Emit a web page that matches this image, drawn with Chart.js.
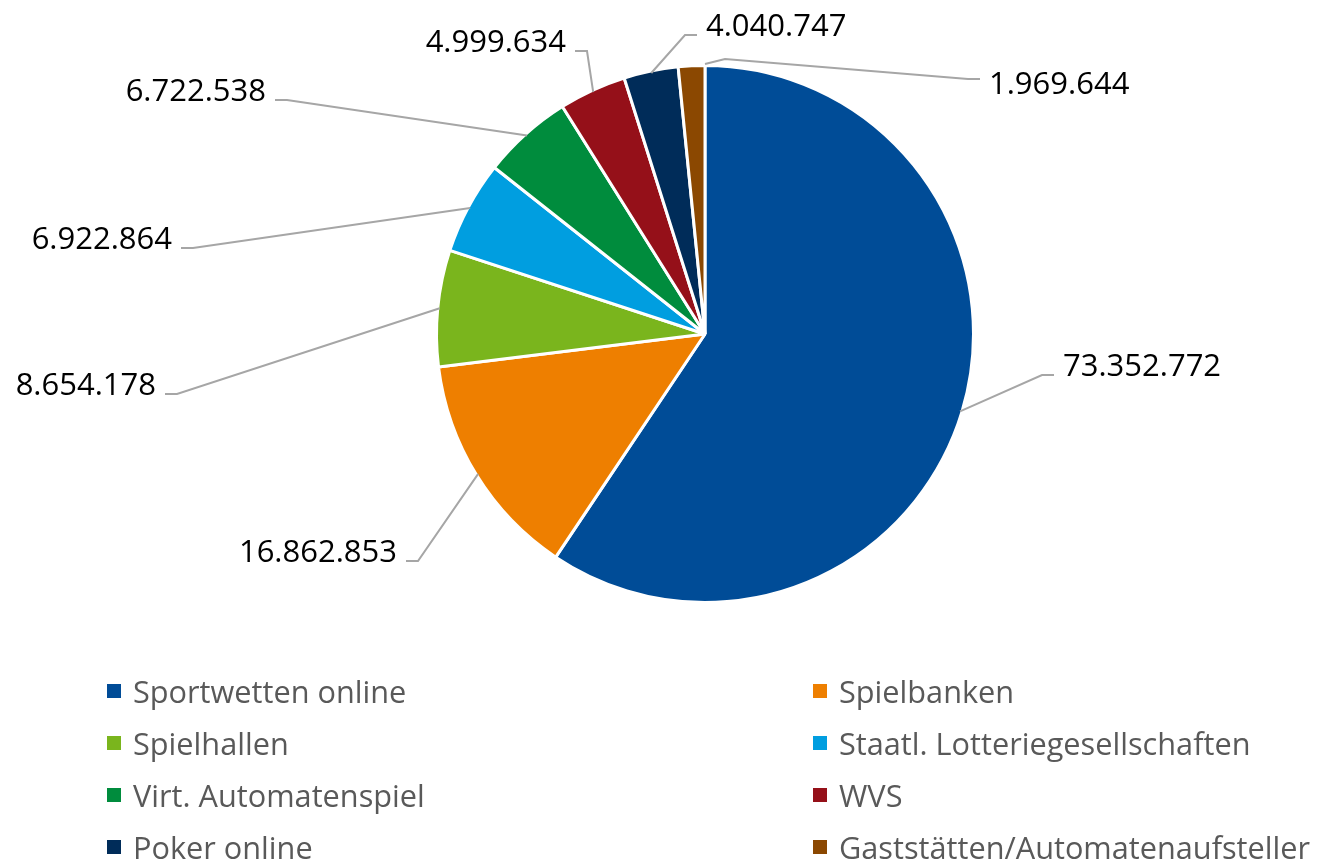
<!DOCTYPE html>
<html>
<head>
<meta charset="utf-8">
<script src="https://cdn.jsdelivr.net/npm/chart.js@4"></script>
<style>
    html, body { margin: 0; padding: 0; background: #fff; }
    #wrap { position: relative; width: 1319px; height: 862px; }
    #legend {
        position: absolute; left: 107px; top: 665px;
        display: grid; grid-template-columns: 706px 500px; grid-auto-rows: 52px;
        font-family: "Open Sans", sans-serif; font-size: 30.7px; color: #595959;
    }
    .item { display: flex; align-items: center; white-space: nowrap; }
    .box { width: 14px; height: 14px; margin-right: 12px; flex: none; }
</style>
</head>
<body>
<div id="wrap">
    <canvas id="pieChart" width="1319" height="862"></canvas>
    <div id="legend"></div>
</div>
<script>
const categories = [
    "Sportwetten online", "Spielbanken", "Spielhallen", "Staatl. Lotteriegesellschaften",
    "Virt. Automatenspiel", "WVS", "Poker online", "Gaststätten/Automatenaufsteller"
];
const values = [73352772, 16862853, 8654178, 6922864, 6722538, 4999634, 4040747, 1969644];
const colors = ["#004C97", "#EE7F00", "#7AB51D", "#009EE0", "#008C3D", "#951019", "#002C59", "#8B4801"];

// where each leader line turns horizontal, relative to the pie centre, and which side the text sits
const labelElbows = [[337, 41], [-287, 227], [-528, 60], [-512, -86], [-418, -234], [-118, -283], [-20, -299], [263, -255]];
const labelSides = ["right", "left", "left", "left", "left", "left", "right", "right"];
// text baseline below the elbow
const labelDy = [1, 1, 1, 1, 1, 1, 1, 15];
// the last label's leader starts at the top of the pie and kinks once
const leaderStarts = [null, null, null, null, null, null, null, [0, -270]];
const leaderKinks = [null, null, null, null, null, null, null, [20, -275]];

function formatDE(v) {
    return String(v).replace(/\B(?=(\d{3})+(?!\d))/g, ".");
}

const leaderLabels = {
    id: "leaderLabels",
    afterDatasetsDraw(chart) {
        const ctx = chart.ctx;
        const meta = chart.getDatasetMeta(0);
        ctx.save();
        ctx.lineWidth = 2;
        ctx.strokeStyle = "#A6A6A6";
        ctx.font = '31px "Open Sans"';
        ctx.fillStyle = "#000";
        ctx.textBaseline = "alphabetic";
        meta.data.forEach((arc, i) => {
            const p = arc.getProps(["x", "y", "startAngle", "endAngle", "outerRadius"], true);
            const mid = (p.startAngle + p.endAngle) / 2;
            let sx = p.x + Math.cos(mid) * (p.outerRadius - 2);
            let sy = p.y + Math.sin(mid) * (p.outerRadius - 2);
            if (leaderStarts[i]) {
                sx = p.x + leaderStarts[i][0];
                sy = p.y + leaderStarts[i][1];
            }
            const ex = p.x + labelElbows[i][0];
            const ey = p.y + labelElbows[i][1];
            const dir = labelSides[i] === "right" ? 1 : -1;
            ctx.beginPath();
            ctx.moveTo(sx, sy);
            if (leaderKinks[i]) ctx.lineTo(p.x + leaderKinks[i][0], p.y + leaderKinks[i][1]);
            ctx.lineTo(ex, ey);
            ctx.lineTo(ex + dir * 12, ey);
            ctx.stroke();
            ctx.textAlign = dir > 0 ? "left" : "right";
            ctx.fillText(formatDE(values[i]), ex + dir * 21, ey + labelDy[i]);
        });
        ctx.restore();
    }
};

const ctxPie = document.getElementById("pieChart").getContext("2d");
const pieChart = new Chart(ctxPie, {
    type: "pie",
    data: {
        labels: categories,
        datasets: [{
            data: values,
            backgroundColor: colors,
            borderColor: "#fff",
            borderWidth: 3
        }]
    },
    options: {
        responsive: false,
        animation: false,
        layout: {
            padding: { top: 64, bottom: 258, left: 400, right: 309 }
        },
        plugins: {
            legend: { display: false },
            tooltip: { enabled: false }
        }
    },
    plugins: [leaderLabels]
});

const legendEl = document.getElementById("legend");
categories.forEach((name, i) => {
    const item = document.createElement("div");
    item.className = "item";
    const box = document.createElement("span");
    box.className = "box";
    box.style.background = colors[i];
    const txt = document.createElement("span");
    txt.textContent = name;
    item.appendChild(box);
    item.appendChild(txt);
    legendEl.appendChild(item);
});
</script>
</body>
</html>
